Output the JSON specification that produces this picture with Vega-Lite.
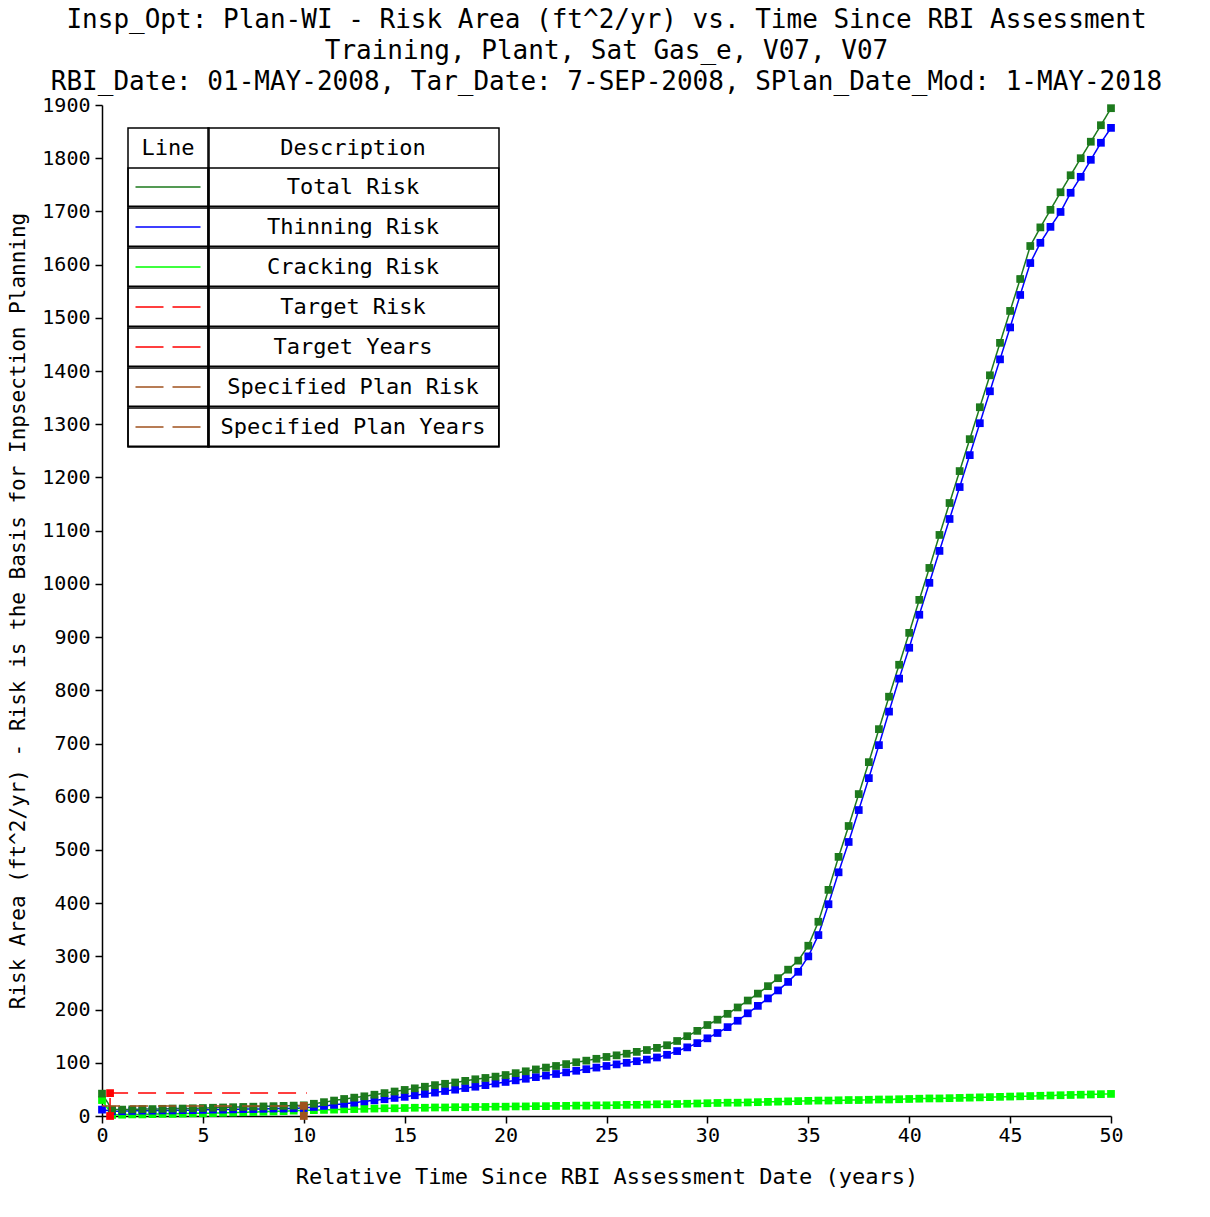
{
  "$schema": "https://vega.github.io/schema/vega-lite/v6.json",
  "width": 1009,
  "height": 1011,
  "autosize": {"type": "none"},
  "padding": {"left": 102, "top": 105, "right": 99, "bottom": 101},
  "background": "white",
  "config": {
    "view": {"stroke": null},
    "font": "DejaVu Sans Mono",
    "axis": {
      "domainColor": "black", "domainWidth": 1.5, "tickColor": "black", "tickWidth": 1.5, "tickSize": 7,
      "labelFont": "DejaVu Sans Mono", "labelFontSize": 20, "labelColor": "black",
      "titleFont": "DejaVu Sans Mono", "titleFontSize": 22, "titleFontWeight": "normal", "titleColor": "black",
      "grid": false
    },
    "legend": {
      "titleFont": "DejaVu Sans Mono", "titleFontSize": 22, "titleFontWeight": "normal", "titleColor": "black",
      "labelFont": "DejaVu Sans Mono", "labelFontSize": 22, "labelColor": "black",
      "padding": 0, "strokeColor": "black", "strokeWidth": 1.5, "rowPadding": 0, "cornerRadius": 0
    }
  },
  "title": {
    "text": [
      "Insp_Opt: Plan-WI - Risk Area (ft^2/yr) vs. Time Since RBI Assessment",
      "Training, Plant, Sat Gas_e, V07, V07",
      "RBI_Date: 01-MAY-2008, Tar_Date: 7-SEP-2008, SPlan_Date_Mod: 1-MAY-2018"
    ],
    "anchor": "middle", "font": "DejaVu Sans Mono", "fontSize": 26, "fontWeight": "normal",
    "color": "black", "lineHeight": 31, "baseline": "alphabetic", "offset": 8, "dy": 29
  },
  "datasets": {
    "curves": [
      {"t": 0, "Total Risk": 42, "Thinning Risk": 12, "Cracking Risk": 30},
      {"t": 0.5, "Total Risk": 12, "Thinning Risk": 9, "Cracking Risk": 2},
      {"t": 1, "Total Risk": 12, "Thinning Risk": 9, "Cracking Risk": 2.5},
      {"t": 1.5, "Total Risk": 12.5, "Thinning Risk": 9.5, "Cracking Risk": 3},
      {"t": 2, "Total Risk": 13, "Thinning Risk": 10, "Cracking Risk": 3},
      {"t": 2.5, "Total Risk": 13, "Thinning Risk": 10, "Cracking Risk": 3.5},
      {"t": 3, "Total Risk": 13.5, "Thinning Risk": 10.5, "Cracking Risk": 4},
      {"t": 3.5, "Total Risk": 14, "Thinning Risk": 10.5, "Cracking Risk": 4},
      {"t": 4, "Total Risk": 14, "Thinning Risk": 11, "Cracking Risk": 4.5},
      {"t": 4.5, "Total Risk": 14.5, "Thinning Risk": 11, "Cracking Risk": 5},
      {"t": 5, "Total Risk": 15, "Thinning Risk": 11.5, "Cracking Risk": 5},
      {"t": 5.5, "Total Risk": 15.5, "Thinning Risk": 12, "Cracking Risk": 5.5},
      {"t": 6, "Total Risk": 16, "Thinning Risk": 12, "Cracking Risk": 6},
      {"t": 6.5, "Total Risk": 16.5, "Thinning Risk": 12.5, "Cracking Risk": 6.5},
      {"t": 7, "Total Risk": 17, "Thinning Risk": 13, "Cracking Risk": 7},
      {"t": 7.5, "Total Risk": 17.5, "Thinning Risk": 13, "Cracking Risk": 7.5},
      {"t": 8, "Total Risk": 18, "Thinning Risk": 13.5, "Cracking Risk": 8},
      {"t": 8.5, "Total Risk": 18.5, "Thinning Risk": 14, "Cracking Risk": 8.5},
      {"t": 9, "Total Risk": 19, "Thinning Risk": 14, "Cracking Risk": 9},
      {"t": 9.5, "Total Risk": 19.5, "Thinning Risk": 14.5, "Cracking Risk": 10},
      {"t": 10, "Total Risk": 20, "Thinning Risk": 15, "Cracking Risk": 10.5},
      {"t": 10.5, "Total Risk": 23, "Thinning Risk": 17, "Cracking Risk": 11},
      {"t": 11, "Total Risk": 26, "Thinning Risk": 19, "Cracking Risk": 11.5},
      {"t": 11.5, "Total Risk": 29, "Thinning Risk": 21, "Cracking Risk": 12},
      {"t": 12, "Total Risk": 32, "Thinning Risk": 23, "Cracking Risk": 12.5},
      {"t": 12.5, "Total Risk": 34.5, "Thinning Risk": 25, "Cracking Risk": 13},
      {"t": 13, "Total Risk": 37, "Thinning Risk": 27.5, "Cracking Risk": 13.5},
      {"t": 13.5, "Total Risk": 40, "Thinning Risk": 29.5, "Cracking Risk": 14},
      {"t": 14, "Total Risk": 43, "Thinning Risk": 31.5, "Cracking Risk": 14.5},
      {"t": 14.5, "Total Risk": 46, "Thinning Risk": 34, "Cracking Risk": 14.5},
      {"t": 15, "Total Risk": 49, "Thinning Risk": 36, "Cracking Risk": 15},
      {"t": 15.5, "Total Risk": 52, "Thinning Risk": 39, "Cracking Risk": 15.5},
      {"t": 16, "Total Risk": 55, "Thinning Risk": 41.5, "Cracking Risk": 15.5},
      {"t": 16.5, "Total Risk": 58, "Thinning Risk": 44, "Cracking Risk": 16},
      {"t": 17, "Total Risk": 60.5, "Thinning Risk": 47, "Cracking Risk": 16},
      {"t": 17.5, "Total Risk": 63, "Thinning Risk": 49.5, "Cracking Risk": 16.5},
      {"t": 18, "Total Risk": 66, "Thinning Risk": 52.5, "Cracking Risk": 16.5},
      {"t": 18.5, "Total Risk": 69, "Thinning Risk": 55, "Cracking Risk": 17},
      {"t": 19, "Total Risk": 71.5, "Thinning Risk": 58, "Cracking Risk": 17},
      {"t": 19.5, "Total Risk": 74, "Thinning Risk": 61, "Cracking Risk": 17.5},
      {"t": 20, "Total Risk": 77, "Thinning Risk": 64, "Cracking Risk": 17.5},
      {"t": 20.5, "Total Risk": 80.5, "Thinning Risk": 67, "Cracking Risk": 18},
      {"t": 21, "Total Risk": 84, "Thinning Risk": 70, "Cracking Risk": 18},
      {"t": 21.5, "Total Risk": 87.5, "Thinning Risk": 73, "Cracking Risk": 18.5},
      {"t": 22, "Total Risk": 91, "Thinning Risk": 76, "Cracking Risk": 18.5},
      {"t": 22.5, "Total Risk": 94, "Thinning Risk": 79, "Cracking Risk": 19},
      {"t": 23, "Total Risk": 97.5, "Thinning Risk": 82, "Cracking Risk": 19},
      {"t": 23.5, "Total Risk": 101, "Thinning Risk": 85, "Cracking Risk": 19.5},
      {"t": 24, "Total Risk": 104, "Thinning Risk": 88, "Cracking Risk": 19.5},
      {"t": 24.5, "Total Risk": 107.5, "Thinning Risk": 91, "Cracking Risk": 20},
      {"t": 25, "Total Risk": 111, "Thinning Risk": 94, "Cracking Risk": 20},
      {"t": 25.5, "Total Risk": 114, "Thinning Risk": 97, "Cracking Risk": 20.5},
      {"t": 26, "Total Risk": 117, "Thinning Risk": 100, "Cracking Risk": 21},
      {"t": 26.5, "Total Risk": 120.5, "Thinning Risk": 103, "Cracking Risk": 21},
      {"t": 27, "Total Risk": 124, "Thinning Risk": 106, "Cracking Risk": 21.5},
      {"t": 27.5, "Total Risk": 128, "Thinning Risk": 110, "Cracking Risk": 22},
      {"t": 28, "Total Risk": 133, "Thinning Risk": 115, "Cracking Risk": 22},
      {"t": 28.5, "Total Risk": 141, "Thinning Risk": 122, "Cracking Risk": 22.5},
      {"t": 29, "Total Risk": 150, "Thinning Risk": 129, "Cracking Risk": 23},
      {"t": 29.5, "Total Risk": 160, "Thinning Risk": 137, "Cracking Risk": 23.5},
      {"t": 30, "Total Risk": 171, "Thinning Risk": 146, "Cracking Risk": 24},
      {"t": 30.5, "Total Risk": 181, "Thinning Risk": 156, "Cracking Risk": 24.5},
      {"t": 31, "Total Risk": 192, "Thinning Risk": 167, "Cracking Risk": 25},
      {"t": 31.5, "Total Risk": 204, "Thinning Risk": 179, "Cracking Risk": 25},
      {"t": 32, "Total Risk": 217, "Thinning Risk": 193, "Cracking Risk": 25.5},
      {"t": 32.5, "Total Risk": 230, "Thinning Risk": 207, "Cracking Risk": 26},
      {"t": 33, "Total Risk": 244, "Thinning Risk": 221, "Cracking Risk": 26.5},
      {"t": 33.5, "Total Risk": 259, "Thinning Risk": 236, "Cracking Risk": 27},
      {"t": 34, "Total Risk": 275, "Thinning Risk": 252, "Cracking Risk": 27.5},
      {"t": 34.5, "Total Risk": 292, "Thinning Risk": 271, "Cracking Risk": 28},
      {"t": 35, "Total Risk": 320, "Thinning Risk": 300, "Cracking Risk": 28.5},
      {"t": 35.5, "Total Risk": 365, "Thinning Risk": 340, "Cracking Risk": 29},
      {"t": 36, "Total Risk": 425, "Thinning Risk": 398, "Cracking Risk": 29},
      {"t": 36.5, "Total Risk": 487, "Thinning Risk": 458, "Cracking Risk": 29.5},
      {"t": 37, "Total Risk": 545, "Thinning Risk": 515, "Cracking Risk": 30},
      {"t": 37.5, "Total Risk": 605, "Thinning Risk": 575, "Cracking Risk": 30},
      {"t": 38, "Total Risk": 665, "Thinning Risk": 635, "Cracking Risk": 30.5},
      {"t": 38.5, "Total Risk": 727, "Thinning Risk": 697, "Cracking Risk": 31},
      {"t": 39, "Total Risk": 788, "Thinning Risk": 760, "Cracking Risk": 31},
      {"t": 39.5, "Total Risk": 848, "Thinning Risk": 822, "Cracking Risk": 31.5},
      {"t": 40, "Total Risk": 908, "Thinning Risk": 880, "Cracking Risk": 32},
      {"t": 40.5, "Total Risk": 970, "Thinning Risk": 942, "Cracking Risk": 32.5},
      {"t": 41, "Total Risk": 1030, "Thinning Risk": 1002, "Cracking Risk": 33},
      {"t": 41.5, "Total Risk": 1092, "Thinning Risk": 1062, "Cracking Risk": 33},
      {"t": 42, "Total Risk": 1152, "Thinning Risk": 1122, "Cracking Risk": 33.5},
      {"t": 42.5, "Total Risk": 1212, "Thinning Risk": 1182, "Cracking Risk": 34},
      {"t": 43, "Total Risk": 1272, "Thinning Risk": 1242, "Cracking Risk": 34.5},
      {"t": 43.5, "Total Risk": 1332, "Thinning Risk": 1302, "Cracking Risk": 35},
      {"t": 44, "Total Risk": 1392, "Thinning Risk": 1362, "Cracking Risk": 35.5},
      {"t": 44.5, "Total Risk": 1453, "Thinning Risk": 1422, "Cracking Risk": 36},
      {"t": 45, "Total Risk": 1513, "Thinning Risk": 1482, "Cracking Risk": 36.5},
      {"t": 45.5, "Total Risk": 1573, "Thinning Risk": 1543, "Cracking Risk": 37},
      {"t": 46, "Total Risk": 1635, "Thinning Risk": 1603, "Cracking Risk": 37.5},
      {"t": 46.5, "Total Risk": 1670, "Thinning Risk": 1641, "Cracking Risk": 38},
      {"t": 47, "Total Risk": 1703, "Thinning Risk": 1671, "Cracking Risk": 38.5},
      {"t": 47.5, "Total Risk": 1736, "Thinning Risk": 1699, "Cracking Risk": 39},
      {"t": 48, "Total Risk": 1768, "Thinning Risk": 1735, "Cracking Risk": 39.5},
      {"t": 48.5, "Total Risk": 1800, "Thinning Risk": 1765, "Cracking Risk": 40},
      {"t": 49, "Total Risk": 1831, "Thinning Risk": 1797, "Cracking Risk": 40.5},
      {"t": 49.5, "Total Risk": 1862, "Thinning Risk": 1829, "Cracking Risk": 41},
      {"t": 50, "Total Risk": 1894, "Thinning Risk": 1857, "Cracking Risk": 41.5}
    ],
    "refs": [
      {"series": "Target Risk", "t": 0.4, "v": 43},
      {"series": "Target Risk", "t": 10.15, "v": 43},
      {"series": "Target Years", "t": 0.4, "v": 0},
      {"series": "Target Years", "t": 0.4, "v": 43},
      {"series": "Specified Plan Risk", "t": 0, "v": 19},
      {"series": "Specified Plan Risk", "t": 10, "v": 19},
      {"series": "Specified Plan Years", "t": 10, "v": 0},
      {"series": "Specified Plan Years", "t": 10, "v": 19}
    ]
  },
  "encoding": {
    "x": {
      "field": "t", "type": "quantitative",
      "scale": {"domain": [0, 50], "nice": false, "zero": false},
      "axis": {
        "values": [0, 5, 10, 15, 20, 25, 30, 35, 40, 45, 50],
        "title": "Relative Time Since RBI Assessment Date (years)",
        "labelPadding": 2, "titlePadding": 21, "labelFlush": false
      }
    },
    "y": {
      "field": "v", "type": "quantitative",
      "scale": {"domain": [0, 1900], "nice": false},
      "axis": {
        "values": [0, 100, 200, 300, 400, 500, 600, 700, 800, 900, 1000, 1100, 1200, 1300, 1400, 1500, 1600, 1700, 1800, 1900],
        "format": "d",
        "title": "Risk Area (ft^2/yr) - Risk is the Basis for Inpsection Planning",
        "labelPadding": 5, "titlePadding": 13, "titleFontSize": 21, "labelOverlap": false, "labelFlush": false
      }
    },
    "color": {
      "field": "series", "type": "nominal",
      "scale": {
        "domain": ["Total Risk", "Thinning Risk", "Cracking Risk", "Target Risk", "Target Years", "Specified Plan Risk", "Specified Plan Years"],
        "range": ["#1d7a1d", "#0000ff", "#00ff00", "#ff0000", "#ff0000", "#a0521e", "#a0521e"]
      },
      "legend": {
        "orient": "none", "legendX": 26, "legendY": 23,
        "title": "Line", "titleAnchor": "middle", "titleBaseline": "top", "titlePadding": 18,
        "symbolType": "M-1,0H1", "symbolSize": 4225, "symbolStrokeWidth": 1.5,
        "labelExpr": "''", "labelFontSize": 2,
        "encode": {
          "entries": {"update": {"width": {"value": 80}, "height": {"value": 37.4}, "stroke": {"value": "black"}, "strokeWidth": {"value": 1.5}, "noBound": {"value": false}}},
          "symbols": {"update": {"x": {"value": 40}, "y": {"value": 19}, "fill": {"value": "transparent"}, "strokeDash": {"signal": "indexof(['Target Risk','Target Years','Specified Plan Risk','Specified Plan Years'], datum.value) >= 0 ? [28, 9] : [1, 0]"}}},
          "labels": {"update": {"x": {"value": 40}, "y": {"value": 19}}},
          "title": {"update": {"dy": {"value": 10}}}
        }
      }
    }
  },
  "layer": [
    {
      "data": {"name": "curves"},
      "transform": [{"fold": ["Cracking Risk", "Thinning Risk", "Total Risk"], "as": ["series", "v"]}],
      "layer": [
        {
          "mark": {"type": "line", "strokeWidth": 1.5},
          "encoding": {
            "strokeDash": {
              "field": "series", "type": "nominal",
              "scale": {
                "domain": ["Total Risk", "Thinning Risk", "Cracking Risk", "Target Risk", "Target Years", "Specified Plan Risk", "Specified Plan Years", "none"],
                "range": [[1, 0], [1, 0], [1, 0], [18, 10], [18, 10], [18, 10], [18, 10], [1, 0]]
              },
              "legend": {
                "values": ["Total Risk", "Thinning Risk", "Cracking Risk", "Target Risk", "Target Years", "Specified Plan Risk", "Specified Plan Years"],
                "orient": "none", "legendX": 106, "legendY": 23,
                "title": "Description", "titleAnchor": "middle", "titleBaseline": "top", "titlePadding": 18,
                "symbolType": "stroke", "symbolSize": 100, "symbolOpacity": 0,
                "labelAlign": "center", "labelLimit": 0,
                "encode": {
                  "entries": {"update": {"width": {"value": 290}, "height": {"value": 37.4}, "stroke": {"value": "black"}, "strokeWidth": {"value": 1.5}, "noBound": {"value": false}}},
                  "labels": {"update": {"x": {"value": 145}, "y": {"value": 19}, "baseline": {"value": "middle"}, "align": {"value": "center"}}},
                  "symbols": {"update": {"x": {"value": 20}, "y": {"value": 19}}},
                  "title": {"update": {"dy": {"value": 10}}}
                }
              }
            }
          }
        },
        {
          "mark": {"type": "point", "filled": true, "shape": "square", "size": 60, "opacity": 1}
        }
      ]
    },
    {
      "data": {"name": "refs"},
      "layer": [
        {
          "mark": {"type": "line", "strokeWidth": 1.5},
          "encoding": {
            "detail": {"field": "series", "type": "nominal"},
            "strokeDash": {"field": "series", "type": "nominal"}
          }
        },
        {
          "transform": [{"filter": {"field": "series", "oneOf": ["Target Years", "Specified Plan Years"]}}],
          "mark": {"type": "point", "filled": true, "shape": "square", "size": 60, "opacity": 1}
        }
      ]
    }
  ]
}
